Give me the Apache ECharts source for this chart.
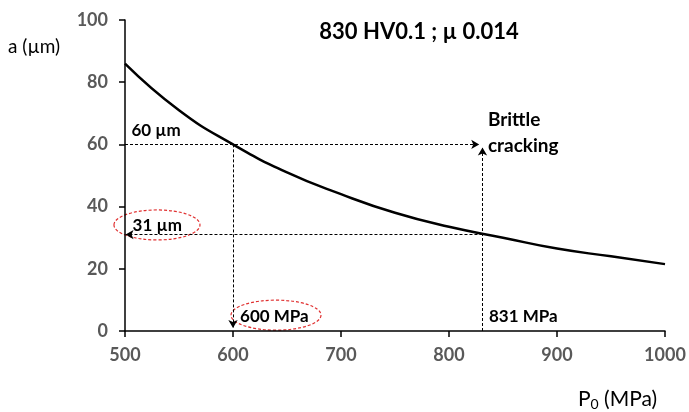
<!DOCTYPE html>
<html>
<head>
<meta charset="utf-8">
<script src="https://cdn.jsdelivr.net/npm/echarts@6/dist/echarts.min.js"></script>
<style>
  html, body { margin: 0; padding: 0; background: #fff; }
  #chart { width: 689px; height: 412px; }
</style>
</head>
<body>
<div id="chart"></div>
<script>
// values
var pressure = [500, 550, 600, 650, 700, 750, 800, 850, 900, 950, 1000];
var crackSize = [86, 71, 60, 51, 44, 38, 33.5, 30, 26.5, 24, 21.5];

// construction lines
var p1 = 600, a1 = 60;
var p2 = 831, a2 = 31;

var FONT = "Lato, 'Liberation Sans', sans-serif";
var chart = echarts.init(document.getElementById("chart"));

var curve = pressure.map(function (p, i) { return [p, crackSize[i]]; });

chart.setOption({
  animation: false,
  grid: { left: 125, right: 24, top: 20, bottom: 81 },
  xAxis: {
    type: "value", min: 500, max: 1000, interval: 100,
    axisLine: { lineStyle: { color: "#000", width: 1.5 } },
    axisTick: { show: true, length: 6, lineStyle: { color: "#000", width: 1.5 } },
    splitLine: { show: false },
    axisLabel: { color: "#595959", fontWeight: "bold", fontSize: 18, margin: 15, fontFamily: FONT,
      formatter: function (v) { return String(v); } }
  },
  yAxis: {
    type: "value", min: 0, max: 100, interval: 20,
    axisLine: { show: true, lineStyle: { color: "#000", width: 1.5 } },
    axisTick: { show: true, length: 6, lineStyle: { color: "#000", width: 1.5 } },
    splitLine: { show: false },
    axisLabel: { color: "#595959", fontWeight: "bold", fontSize: 18, margin: 17, fontFamily: FONT }
  },
  series: [
    {
      type: "line",
      data: curve,
      smooth: 0.5,
      symbol: "none",
      lineStyle: { color: "#000", width: 2.5 },
      markLine: {
        silent: true,
        symbol: ["none", "arrow"],
        symbolSize: [7, 8],
        label: { show: false },
        lineStyle: { color: "#000", type: [3, 2], width: 1 },
        data: [
          [{ coord: [500, a1] }, { coord: [p2 - 3, a1] }],
          [{ coord: [p1, a1] }, { coord: [p1, 1] }],
          [{ coord: [p2, a2] }, { coord: [500.5, a2] }],
          [{ coord: [p2, 0] }, { coord: [p2, a1 - 1] }]
        ]
      }
    }
  ]
});

function px(x, y) { return chart.convertToPixel({ gridIndex: 0 }, [x, y]); }

var bold = { fill: "#000", fontWeight: "bold", fontSize: 17, fontFamily: FONT };
function txt(x, y, s, extra) {
  var p = px(x, y);
  return { type: "text", x: p[0], y: p[1],
    style: Object.assign({ text: s, verticalAlign: "middle" }, bold, extra || {}) };
}
function ellipse(x, y, rx, ry) {
  var p = px(x, y);
  return { type: "ellipse", shape: { cx: p[0], cy: p[1], rx: rx, ry: ry },
    style: { fill: null, stroke: "#e03030", lineWidth: 1.2, lineDash: [3, 2] } };
}

chart.setOption({
  graphic: [
    { type: "text", x: 419, y: 32,
      style: { text: "830 HV0.1 ; \u00b5 0.014", fill: "#000", fontWeight: "bold", fontSize: 22,
        fontFamily: FONT, align: "center", verticalAlign: "middle" } },
    { type: "text", x: 8, y: 47,
      style: { text: "a (\u00b5m)", fill: "#000", fontSize: 19, fontFamily: FONT, verticalAlign: "middle" } },
    { type: "text", x: 578, y: 399,
      style: {
        text: "{a|P}{s|0}{a| (MPa)}",
        verticalAlign: "middle",
        rich: {
          a: { fill: "#000", fontSize: 21, fontFamily: FONT },
          s: { fill: "#000", fontSize: 14, fontFamily: FONT, padding: [10, 0, 0, 0] }
        }
      } },
    txt(506, 64.6, "60 \u00b5m"),
    txt(507, 33.8, "31 \u00b5m"),
    ellipse(529.6, 34.1, 43, 15),
    txt(606.5, 4.8, "600 MPa"),
    ellipse(639.8, 5.1, 45, 15),
    txt(837, 4.8, "831 MPa"),
    txt(836, 67.8, "Brittle", { fontSize: 19 }),
    txt(836, 59.5, "cracking", { fontSize: 19 })
  ]
});
</script>
</body>
</html>
